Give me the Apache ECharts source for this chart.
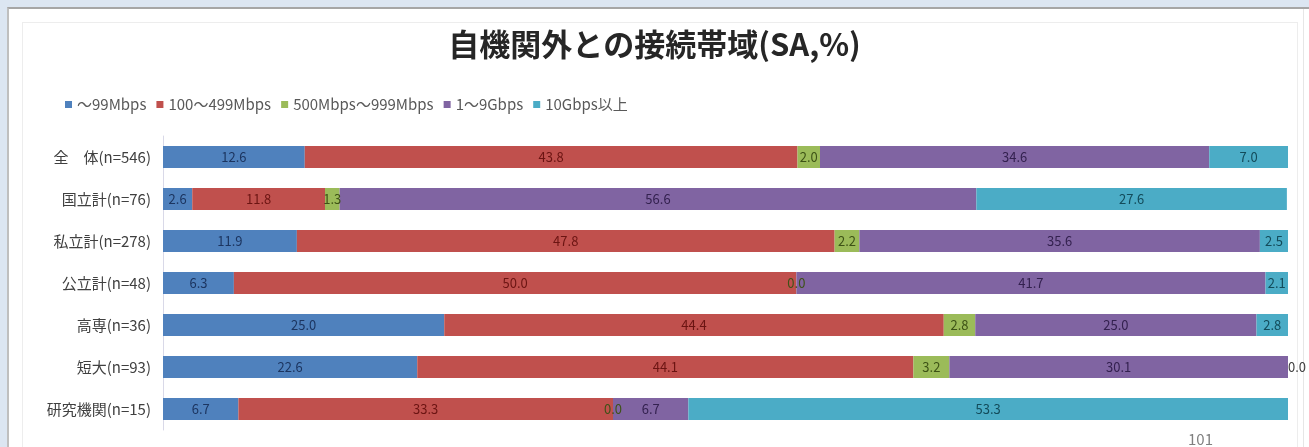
<!DOCTYPE html>
<html>
<head>
<meta charset="utf-8">
<script src="https://cdn.jsdelivr.net/npm/echarts@6/dist/echarts.min.js"></script>
<style>
  html, body { margin: 0; padding: 0; }
  body { width: 1309px; height: 447px; background: #dce6f2; position: relative; overflow: hidden; }
  #sheet { position: absolute; left: 7px; top: 7px; width: 1302px; height: 440px; background: #fff;
           border-top: 2px solid #a6a6a6; border-left: 2px solid #bfbfbf; box-sizing: border-box; }
  #frame { position: absolute; left: 22px; top: 22px; width: 1276px; height: 430px;
           border: 1px solid #ededed; box-sizing: border-box; }
  #edge { position: absolute; left: 1303px; top: 9px; width: 1px; height: 438px; background: #e6e6e6; }
  #chart { position: absolute; left: 0; top: 0; width: 1309px; height: 447px; }
</style>
</head>
<body>
<div id="sheet"></div>
<div id="frame"></div>
<div id="edge"></div>
<div id="chart"></div>
<script>
// Connection bandwidth to outside networks, share of respondents (%)
const categories = ['全　体(n=546)', '国立計(n=76)', '私立計(n=278)', '公立計(n=48)', '高専(n=36)', '短大(n=93)', '研究機関(n=15)'];
const seriesNames = ['～99Mbps', '100～499Mbps', '500Mbps～999Mbps', '1～9Gbps', '10Gbps以上'];
const under100M = [12.6, 2.6, 11.9, 6.3, 25.0, 22.6, 6.7];
const from100to499M = [43.8, 11.8, 47.8, 50.0, 44.4, 44.1, 33.3];
const from500to999M = [2.0, 1.3, 2.2, 0.0, 2.8, 3.2, 0.0];
const from1to9G = [34.6, 56.6, 35.6, 41.7, 25.0, 30.1, 6.7];
const over10G = [7.0, 27.6, 2.5, 2.1, 2.8, 0.0, 53.3];

const seriesValues = [under100M, from100to499M, from500to999M, from1to9G, over10G];
const fillColors = ['#4f81bd', '#c0504d', '#9bbb59', '#8064a2', '#4bacc6'];
const labelColors = ['#1c3560', '#6b1412', '#3d5216', '#33214f', '#134b5a'];

const jp = '"Noto Sans CJK JP", "Noto Sans", sans-serif';

const chart = echarts.init(document.getElementById('chart'), null, { renderer: 'canvas' });

const series = seriesValues.map((vals, i) => ({
  name: seriesNames[i],
  type: 'bar',
  stack: 'total',
  barWidth: 22,
  itemStyle: { color: fillColors[i] },
  label: {
    show: true,
    position: 'inside',
    color: labelColors[i],
    fontFamily: jp,
    fontSize: 13,
    formatter: p => Number(p.value).toFixed(1)
  },
  // a zero-width segment at the end of a bar gets its label just past the bar
  data: vals.map((v, j) => (v === 0 && i === seriesValues.length - 1)
    ? { value: v, label: { position: 'right', distance: 0, color: '#404040' } }
    : v)
}));

chart.setOption({
  backgroundColor: 'transparent',
  animation: false,
  title: {
    text: '自機関外との接続帯域(SA,%)',
    left: 'center',
    top: 24,
    textStyle: { fontFamily: jp, fontSize: 31, fontWeight: 'bold', color: '#262626' }
  },
  legend: {
    left: 60,
    top: 92,
    itemWidth: 7,
    itemHeight: 7,
    itemGap: 10,
    icon: 'rect',
    textStyle: { fontFamily: jp, fontSize: 15, color: '#595959' },
    data: seriesNames
  },
  grid: { left: 163, right: 21, top: 136, bottom: 17, containLabel: false },
  xAxis: {
    type: 'value',
    min: 0,
    max: 100,
    show: false
  },
  yAxis: {
    type: 'category',
    inverse: true,
    data: categories,
    axisLine: { show: true, lineStyle: { color: '#d9d9e8' } },
    axisTick: { show: false },
    axisLabel: { fontFamily: jp, fontSize: 15, color: '#404040', margin: 12 }
  },
  graphic: [{
    type: 'text',
    left: 1188,
    top: 432,
    style: { text: '101', fontFamily: jp, fontSize: 15, fill: '#7f7f7f' }
  }],
  series: series
});
</script>
</body>
</html>
